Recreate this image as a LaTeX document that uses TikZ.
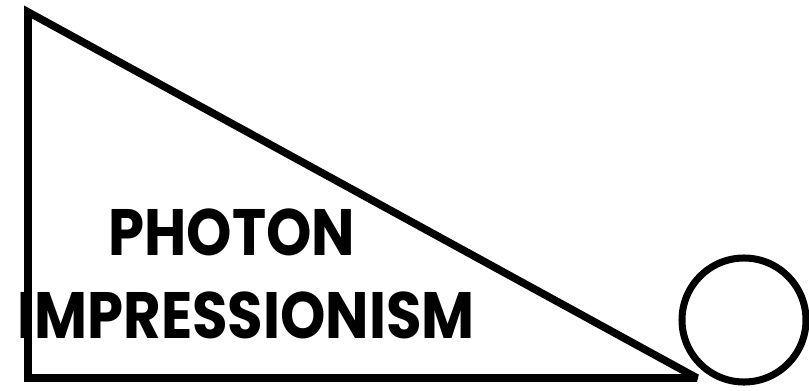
\documentclass[tikz,border=0pt]{standalone}
\usepackage{fontspec}
\setmainfont{Poppins}
\usepackage{tikz}
\usetikzlibrary{positioning}

\begin{document}
\begin{tikzpicture}[x=0.03cm, y=-0.03cm]
\tikzset{
  title/.style={font=\fontsize{56}{66}\selectfont\bfseries, inner sep=0pt},
  edge/.style={line width=6.5pt, line join=miter, miter limit=3},
}
\useasboundingbox (0,0) rectangle (809,391);
% ramp
\coordinate (top) at (28,12);
\coordinate (corner) at (28,378);
\coordinate (tip) at (697,378);
\draw[edge] (top) -- (corner) -- (tip) -- cycle;
% ball
\node[circle, draw, line width=6pt, minimum size=3.72cm, inner sep=0pt] (ball) at (744,320) {};
% label
\node[title] (photon) at (232,232) {\scalebox{0.88}[1]{PHOTON}};
\node[title] (impress) at (246,315) {\scalebox{0.88}[1]{IMPRESSIONISM}};
\end{tikzpicture}
\end{document}
